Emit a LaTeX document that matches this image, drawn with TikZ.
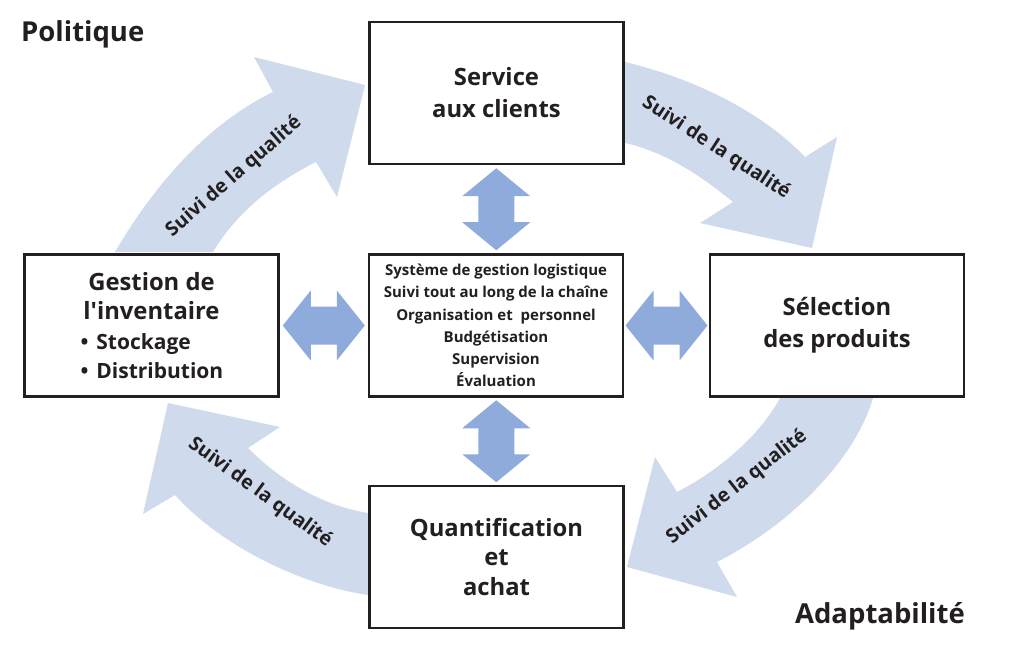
\documentclass[tikz,border=0pt]{standalone}
\usepackage{fontspec}
\setmainfont{Open Sans}[Ligatures=TeXOff]
\usetikzlibrary{calc}
\definecolor{bandblue}{RGB}{207,218,237}
\definecolor{arrblue}{RGB}{143,171,219}
\definecolor{ink}{RGB}{35,31,32}
\begin{document}
\begin{tikzpicture}[x=1pt,y=-1pt,
 box/.style={draw=ink, fill=white, line width=2.8pt, minimum width=254pt, minimum height=142pt, inner sep=0pt, align=center, text=ink, font=\bfseries\fontsize{23.8}{32}\selectfont},
 band/.style={fill=bandblue, draw=none},
 bandtext/.style={font=\bfseries\fontsize{19.5}{22}\selectfont, text=ink, inner sep=0pt},
 corner/.style={font=\bfseries\fontsize{27.5}{30}\selectfont, text=ink, inner sep=0pt},
 vdbl/.style={fill=arrblue, draw=none},
 ]
\useasboundingbox (0,0) rectangle (1016,660);

% curved quality bands
\fill[band] (115,252) .. controls (160,175) and (215,120) .. (273,92) -- (254,57) -- (365,85) -- (337,197) -- (316,162) .. controls (270,185) and (235,215) .. (213,252) -- cycle;
\fill[band] (625,62) .. controls (700,80) and (765,115) .. (805,157) -- (837,137) -- (812,248) -- (700,223) -- (733,202) .. controls (700,175) and (665,152) .. (625,143) -- cycle;
\fill[band] (873,398) .. controls (855,460) and (790,525) .. (717,562) -- (737,597) -- (627,567) -- (655,457) -- (677,492) .. controls (720,470) and (760,435) .. (780,398) -- cycle;
\fill[band] (368,513) .. controls (320,505) and (280,480) .. (248,448) -- (280,427) -- (168,403) -- (143,514) -- (175,495) .. controls (220,545) and (300,585) .. (368,595) -- cycle;

\node[bandtext, rotate=41] (q1) at (234,177) {Suivi de la qualité};
\node[bandtext, rotate=-33] (q2) at (716,148) {Suivi de la qualité};
\node[bandtext, rotate=38] (q3) at (737,487) {Suivi de la qualité};
\node[bandtext, rotate=-36] (q4) at (260,493) {Suivi de la qualité};

% boxes
\node[box] (svc) at (496.5,93) {Service\\aux clients};
\node[box, font=\bfseries\fontsize{23.8}{29.3}\selectfont] (gest) at (151.5,325.5) {Gestion de\\l'inventaire\\
  {\fontsize{21}{29.3}\selectfont\makebox[142pt][l]{\textbullet\hspace{8pt}Stockage}}\\
  {\fontsize{21}{29.3}\selectfont\makebox[142pt][l]{\textbullet\hspace{8pt}Distribution}}};
\node[box, font=\bfseries\fontsize{15}{22.2}\selectfont] (ctr) at (496,325.5) {Système de gestion logistique\\Suivi tout au long de la chaîne\\Organisation et\ \ personnel\\Budgétisation\\Supervision\\Évaluation};
\node[box] (sel) at (837,325.5) {Sélection\\des produits};
\node[box, font=\bfseries\fontsize{23.8}{29.5}\selectfont] (qty) at (496.5,557) {Quantification\\et\\achat};

% double arrows between the central box and the four boxes
\coordinate (a1) at ($(svc.south)!0.5!(ctr.north)$);
\coordinate (a2) at ($(ctr.south)!0.5!(qty.north)$);
\coordinate (a3) at ($(gest.east)!0.5!(ctr.west)$);
\coordinate (a4) at ($(ctr.east)!0.5!(sel.west)$);
\foreach \c in {a1,a2}
  \fill[vdbl, shift={(\c)}] (0,-41) -- (34,-13) -- (18,-13) -- (18,13) -- (34,13) -- (0,41) -- (-34,13) -- (-18,13) -- (-18,-13) -- (-34,-13) -- cycle;
\foreach \c in {a3,a4}
  \fill[vdbl, shift={(\c)}] (-41,0) -- (-13,-35) -- (-13,-19) -- (13,-19) -- (13,-35) -- (41,0) -- (13,35) -- (13,19) -- (-13,19) -- (-13,35) -- cycle;

% corner labels
\node[corner, anchor=west] (pol) at (21,34) {Politique};
\node[corner, anchor=east] (ada) at (965,616) {Adaptabilité};
\end{tikzpicture}
\end{document}
